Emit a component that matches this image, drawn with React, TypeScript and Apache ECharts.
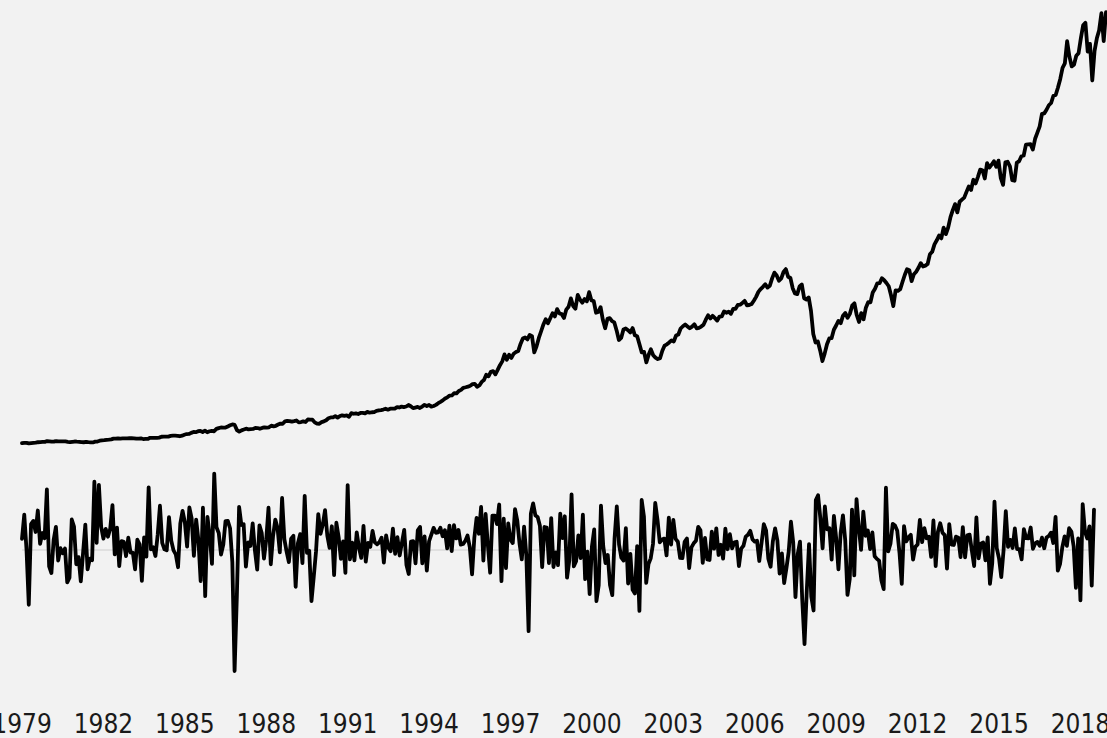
import { useEffect, useRef } from 'react';
import * as echarts from 'echarts';

// Monthly total returns (%), Dec 1979 .. Jun 2019
const firstMonth = { year: 1979, month: 12 };
const monthlyReturns: number[] = [
  1.9,
  // 1980
  6.16, -0.04, -9.78, 4.51, 5.06, 3.10, 6.90, 0.98, 2.92, 2.00, 10.64, -2.99,
  // 1981
  -4.17, 1.73, 4.00, -1.95, 0.23, -0.65, 0.18, -5.81, -4.98, 5.31, 4.06, -2.61,
  // 1982
  -1.35, -5.65, -0.62, 4.40, -3.52, -1.63, -1.90, 12.00, 1.16, 11.44, 4.01, 1.92,
  // 1983
  3.66, 2.25, 3.66, 7.85, -0.88, 3.88, -2.95, 1.48, 1.36, -1.17, 2.09, -0.53,
  // 1984
  -0.54, -3.51, 1.73, 0.93, -5.56, 2.13, -1.27, 11.01, 0.03, 0.38, -1.14, 2.62,
  // 1985
  7.74, 1.19, 0.04, -0.13, 5.74, 1.54, -0.15, -0.87, -3.14, 4.58, 6.84, 4.84,
  // 1986
  0.52, 7.43, 5.56, -1.13, 5.30, 1.69, -5.60, 7.40, -8.26, 5.75, 2.43, -2.55,
  // 1987
  13.43, 3.94, 2.89, -0.90, 0.85, 5.04, 5.07, 3.75, -2.17, -21.51, -8.28, 7.54,
  // 1988
  4.34, 4.48, -3.03, 1.24, 0.62, 4.63, -0.24, -3.56, 4.27, 2.90, -1.59, 1.77,
  // 1989
  7.39, -2.61, 2.36, 5.29, 3.79, -0.51, 9.12, 1.83, -0.37, -2.24, 1.93, 2.42,
  // 1990
  -6.60, 1.13, 2.71, -2.41, 9.48, -0.61, -0.24, -9.15, -4.84, -0.39, 6.27, 2.76,
  // 1991
  4.40, 6.98, 2.47, 0.28, 4.11, -4.54, 4.74, 2.21, -1.66, 1.44, -4.14, 11.41,
  // 1992
  -1.74, 1.21, -1.93, 3.04, 0.35, -1.49, 4.19, -2.15, 1.16, 0.46, 3.28, 1.26,
  // 1993
  0.93, 1.28, 2.10, -2.31, 2.50, 0.31, -0.30, 3.67, -0.77, 2.17, -1.06, 1.24,
  // 1994
  3.48, -2.77, -4.34, 1.38, 1.47, -2.45, 3.38, 3.99, -2.46, 2.31, -3.72, 1.46,
  // 1995
  2.65, 3.83, 2.95, 3.02, 3.85, 2.35, 3.40, 0.19, 4.23, -0.28, 4.32, 1.96,
  // 1996
  3.44, 0.87, 0.97, 1.52, 2.47, 0.41, -4.39, 2.06, 5.60, 2.79, 7.52, -1.97,
  // 1997
  6.28, 0.74, -4.11, 5.99, 6.01, 4.50, 7.96, -5.59, 5.47, -3.30, 4.61, 1.72,
  // 1998
  1.14, 7.16, 5.11, 1.03, -1.76, 4.06, -1.04, -14.46, 6.36, 8.15, 6.03, 5.76,
  // 1999
  4.20, -3.13, 3.98, 3.89, -2.40, 5.54, -3.10, -0.53, -2.76, 6.35, 2.01, 5.88,
  // 2000
  -4.99, -1.91, 9.77, -2.98, -2.09, 2.49, -1.53, 6.17, -5.25, -0.39, -7.91, 0.51,
  // 2001
  3.56, -9.13, -6.32, 7.78, 0.61, -2.40, -0.97, -6.31, -8.07, 1.91, 7.62, 0.86,
  // 2002
  -1.44, -1.96, 3.79, -6.02, -0.79, -7.13, -7.78, 0.61, -10.88, 8.76, 5.83, -5.91,
  // 2003
  -2.60, -1.56, 0.98, 8.24, 5.23, 1.27, 1.76, 1.93, -1.05, 5.64, 0.85, 5.22,
  // 2004
  1.88, 1.37, -1.49, -1.53, 1.36, 1.95, -3.28, 0.38, 1.09, 1.55, 4.01, 3.40,
  // 2005
  -2.38, 2.04, -1.76, -1.86, 3.15, 0.14, 3.75, -0.97, 0.84, -1.62, 3.67, 0.05,
  // 2006
  2.70, 0.20, 1.26, 1.37, -2.94, 0.16, 0.66, 2.28, 2.61, 3.30, 1.80, 1.41,
  // 2007
  1.56, -2.03, 1.15, 4.48, 3.40, -1.63, -3.05, 1.44, 3.73, 1.63, -4.25, -0.71,
  // 2008
  -5.94, -3.30, -0.42, 4.93, 1.25, -8.42, -0.81, 1.40, -8.90, -16.76, -7.30, 0.96,
  // 2009
  -8.37, -10.79, 8.74, 9.59, 5.51, 0.22, 7.61, 3.56, 3.77, -1.78, 5.94, 1.98,
  // 2010
  -3.53, 3.02, 6.05, 1.65, -8.03, -5.22, 7.05, -4.57, 8.93, 3.86, -0.06, 6.70,
  // 2011
  2.43, 3.37, 0.07, 3.02, -1.18, -1.66, -1.98, -5.51, -7.01, 10.94, -0.34, 1.02,
  // 2012
  4.54, 4.24, 3.31, -0.57, -6.09, 4.14, 1.44, 2.16, 2.60, -1.80, 0.46, 0.89,
  // 2013
  5.22, 1.29, 3.78, 1.99, 2.26, -1.32, 5.13, -2.95, 3.15, 4.64, 2.98, 2.54,
  // 2014
  -3.38, 4.49, 0.87, 0.80, 2.28, 2.09, -1.33, 3.95, -1.37, 2.50, 2.63, -0.24,
  // 2015
  -2.92, 5.67, -1.56, 1.03, 1.23, -1.92, 2.15, -6.08, -2.46, 8.48, 0.23, -1.57,
  // 2016
  -4.89, -0.23, 6.78, 0.45, 1.71, 0.27, 3.74, 0.06, 0.06, -1.76, 3.60, 2.00,
  // 2017
  1.96, 3.89, 0.13, 1.08, 1.33, 0.65, 2.10, 0.22, 2.10, 2.39, 2.98, 1.15,
  // 2018
  5.78, -3.73, -2.53, 0.43, 2.32, 0.64, 3.76, 3.19, 0.59, -6.78, 1.95, -9.02,
  // 2019
  8.04, 3.14, 1.96, 4.10, -6.41, 7.06,
];

const FONT = "'Liberation Sans Narrow', 'DejaVu Sans Condensed', 'Roboto', sans-serif";

export default function App() {
  const ref = useRef<HTMLDivElement>(null);

  useEffect(() => {
    if (!ref.current) return;
    const chart = echarts.init(ref.current, null, { renderer: 'svg' });

    const months: string[] = [];
    let y = firstMonth.year;
    let m = firstMonth.month;
    for (let i = 0; i < monthlyReturns.length; i++) {
      months.push(`${y}-${String(m).padStart(2, '0')}`);
      m += 1;
      if (m > 12) { m = 1; y += 1; }
    }
    // growth of 1 invested (built from the monthly returns)
    const growth: number[] = [];
    let g = 1;
    for (const r of monthlyReturns) {
      g *= 1 + r / 100;
      growth.push(Number(g.toFixed(4)));
    }

    chart.setOption({
      animation: false,
      backgroundColor: '#f2f2f2',
      grid: [
        { left: 22, top: 2, width: 1084, height: 447, outerBoundsMode: 'none', containLabel: false },
        { left: 22, top: 464.75, width: 1072, height: 226, outerBoundsMode: 'none', containLabel: false },
      ],
      xAxis: [
        { gridIndex: 0, type: 'category', data: months, boundaryGap: false, show: false },
        {
          gridIndex: 1, type: 'category', data: months, boundaryGap: false,
          axisLine: { show: false }, axisTick: { show: false }, splitLine: { show: false },
          axisLabel: {
            interval: 35,
            formatter: (v: string) => v.slice(0, 4),
            fontSize: 26, lineHeight: 26, color: '#1a1a1a', margin: 20, fontFamily: FONT,
          },
        },
      ],
      yAxis: [
        { gridIndex: 0, type: 'value', min: 0, max: 78, show: false },
        {
          gridIndex: 1, type: 'value', min: -25, max: 15, interval: 25,
          axisLine: { show: false }, axisTick: { show: false }, axisLabel: { show: false },
          splitLine: { show: true, lineStyle: { color: ['transparent', '#dadada', 'transparent'], width: 1.5 } },
        },
      ],
      series: [
        {
          type: 'line', xAxisIndex: 0, yAxisIndex: 0, data: growth,
          showSymbol: false, symbol: 'none',
          lineStyle: { color: '#000', width: 3.8, cap: 'round', join: 'round' },
        },
        {
          type: 'line', xAxisIndex: 1, yAxisIndex: 1, data: monthlyReturns,
          showSymbol: false, symbol: 'none',
          lineStyle: { color: '#000', width: 3.8, cap: 'round', join: 'round' },
        },
      ],
    });

    return () => chart.dispose();
  }, []);

  return (
    <div
      ref={ref}
      style={{ position: 'fixed', left: 0, top: 0, width: 1107, height: 738, background: '#f2f2f2' }}
    />
  );
}
